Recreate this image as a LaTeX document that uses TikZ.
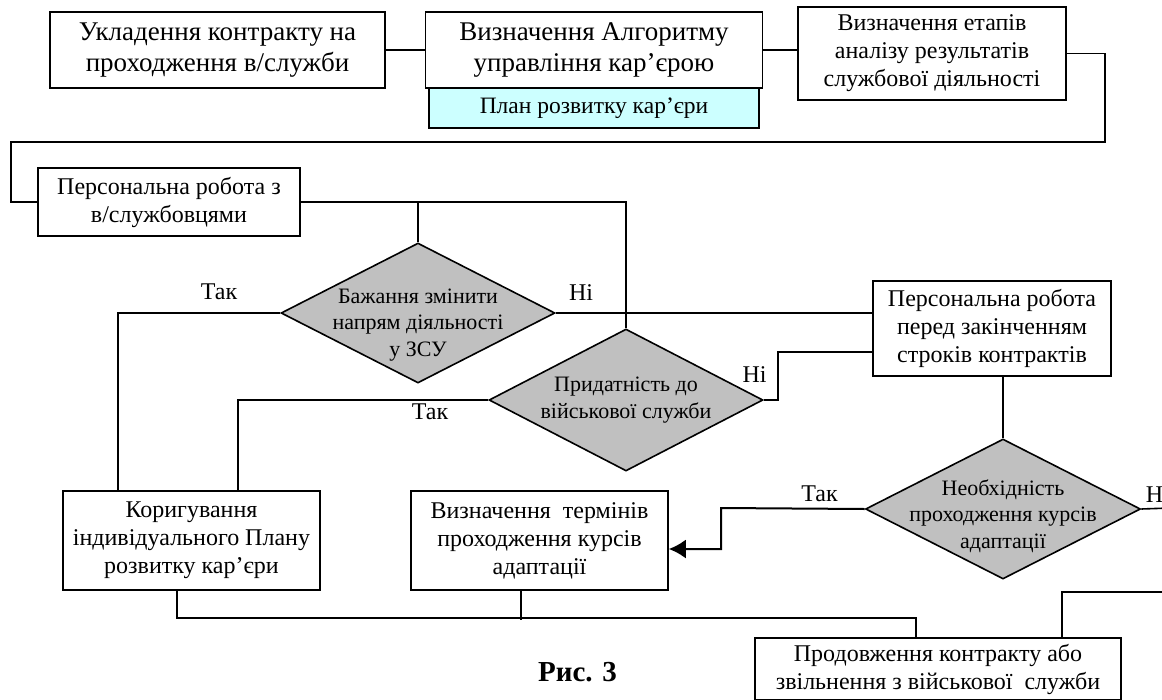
\documentclass[tikz,border=0pt]{standalone}
\usepackage{fontspec}
\setmainfont{Liberation Serif}
\usepackage{tikz}
\usetikzlibrary{shapes.geometric,arrows.meta,calc,positioning}
\definecolor{plancyan}{RGB}{204,255,255}
\definecolor{qgray}{RGB}{192,192,192}

\begin{document}
\begin{tikzpicture}[x=1pt,y=-1pt,>={Latex[length=17pt,width=19pt]},line width=1.6pt,
	every node/.style={font=\fontsize{24}{28}\selectfont},
	blk/.style={draw,fill=white,align=center,inner sep=0pt},
	bigblk/.style={blk,font=\fontsize{27}{31}\selectfont},
	quest/.style={draw,diamond,fill=qgray,inner sep=0pt},
	qtext/.style={align=center,inner sep=0pt,font=\fontsize{22}{26.5}\selectfont},
	lbl/.style={inner sep=0pt},
	]
\useasboundingbox (0,0) rectangle (1162,699);

\node[bigblk,minimum width=335,minimum height=76] (A) at (217.5,50) {Укладення контракту на\\проходження в/служби};
\node[bigblk,minimum width=337,minimum height=76] (B) at (594,50) {Визначення Алгоритму\\управління кар’єрою};
\node[blk,fill=plancyan,minimum width=330,minimum height=40,font=\fontsize{23.5}{26}\selectfont] (P) at (594,108) {План розвитку кар’єри};
\node[blk,minimum width=268,minimum height=93] (C) at (932,53.5) {Визначення етапів\\аналізу результатів\\службової діяльності};
\node[blk,minimum width=262,minimum height=68] (D) at (169,202) {Персональна робота з\\в/службовцями};
\node[blk,minimum width=238.5,minimum height=95] (F) at (992,328.5) {Персональна робота\\перед закінченням\\строків контрактів};
\node[blk,minimum width=257,minimum height=99] (E) at (191.5,540.5) {Коригування\\індивідуального Плану\\розвитку кар’єри};
\node[blk,minimum width=257,minimum height=99] (G) at (539.5,540.5) {Визначення~ термінів\\проходження курсів\\адаптації};
\node[blk,minimum width=366,minimum height=62] (H) at (938,669) {Продовження контракту або\\звільнення з військової~ служби};

\node[quest,minimum width=274,minimum height=140] (Q1) at (418,313) {};
\node[qtext] (Q1t) at ([yshift=-12pt]Q1.center) {Бажання змінити\\напрям діяльності\\у ЗСУ};
\node[quest,minimum width=274,minimum height=142] (Q2) at (626,400) {};
\node[qtext] (Q2t) at (Q2.center) {Придатність до\\військової служби};
\node[quest,minimum width=275,minimum height=140] (Q3) at (1003,509) {};
\node[qtext] (Q3t) at ([yshift=-7pt]Q3.center) {Необхідність\\проходження курсів\\адаптації};

\node[lbl] (yes1) at (219,292) {Так};
\node[lbl] (no1) at (581,293) {Ні};
\node[lbl] (yes2) at (430,412) {Так};
\node[lbl] (no2) at (754.5,375) {Ні};
\node[lbl] (yes3) at (819.5,493.5) {Так};
\node[lbl,anchor=west] (no3) at (1145,495) {Ні};
\node[lbl,font=\fontsize{29}{32}\selectfont\bfseries] (fig) at (577.5,672) {Рис. 3};

\coordinate (r1) at (1105,142);
\coordinate (l1) at (11,142);
\coordinate (k1) at (721,508);
\coordinate (n3) at (1170,508);
\coordinate (n4) at (1170,592);

\draw (A) -- (B);
\draw (B.east) -- (B.east -| C.west);
\draw (C.east) -| (r1) -- (l1) |- (D.west);
\draw (D.east) -| (Q2.north);
\draw (Q1.north) -- (Q1.north |- D.east);
\draw (Q1.west) -| ([xshift=56pt]E.north west);
\draw (Q2.west) -| ([xshift=176pt]E.north west);
\draw (Q1.east) -- (Q1.east -| F.west);
\draw (Q2.east) -- ++(14,0) |- ([yshift=-23.5pt]F.west);
\draw (Q3.north |- F.south) -- (Q3.north);
\draw[->,line width=2pt] (Q3.west) -- (k1) |- ([yshift=-8.5pt]G.east);
\draw (Q3.east) -- (n3);
\draw ([xshift=308pt]H.north west) |- (n4);
\draw ([xshift=115pt]E.south west) -- ++(0,27) -| ([xshift=162pt]H.north west);
\draw ([xshift=111pt]G.south west) -- ++(0,29);
\end{tikzpicture}
\end{document}
